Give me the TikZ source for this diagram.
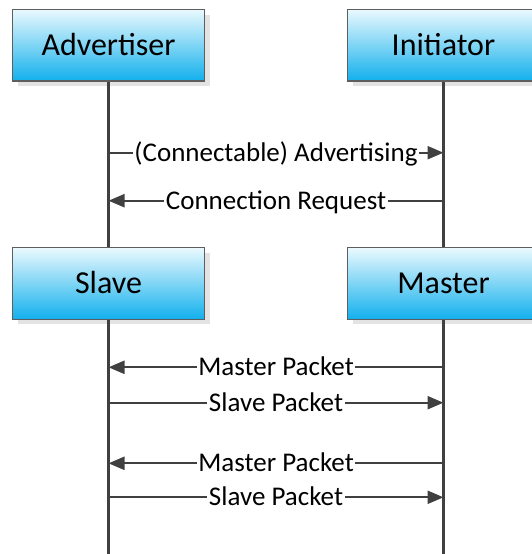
\documentclass[tikz,border=0pt]{standalone}
\usepackage{fontspec}
\setmainfont{Carlito}
\usetikzlibrary{arrows.meta,shadows}

\definecolor{ink}{HTML}{404040}
\definecolor{frame}{HTML}{5E5E5E}
\definecolor{boxtop}{HTML}{EAF9FE}
\definecolor{boxbot}{HTML}{12B0EC}
\definecolor{shade}{HTML}{E3E3E3}

\tikzset{
  x=1pt, y=1pt,
  party/.style={draw=frame, line width=1.3pt, top color=boxtop, bottom color=boxbot,
    minimum width=192pt, minimum height=71.5pt, inner sep=0pt,
    font=\fontsize{32}{38}\selectfont, text height=27pt, text depth=7pt,
    drop shadow={shadow xshift=5pt, shadow yshift=-5pt, fill=shade, opacity=1}},
  lifeline/.style={draw=ink, line width=2.6pt},
  msg/.style={draw=ink, line width=2.2pt, -{Triangle[length=16pt,width=13pt]}},
  msglabel/.style={fill=white, inner xsep=1.5pt, inner ysep=0pt,
    font=\fontsize{27}{32}\selectfont, text height=23pt, text depth=6pt}
}

\begin{document}
\begin{tikzpicture}
\useasboundingbox (0,0) rectangle (532,-554);

% participants
\node[party] (adv) at (108.5,-45.25) {Advertiser};
\node[party] (ini) at (443.5,-45.25) {Initiator};
\node[party] (sla) at (108.5,-283.5) {Slave};
\node[party] (mas) at (443.5,-283.5) {Master};

% lifelines
\coordinate (slaend) at (108.5,-560);
\coordinate (masend) at (443.5,-560);
\draw[lifeline] (adv.south) -- (sla.north);
\draw[lifeline] (ini.south) -- (mas.north);
\draw[lifeline] (sla.south) -- (slaend);
\draw[lifeline] (mas.south) -- (masend);

% message anchors on the lifelines
\coordinate (a1) at (108.5,-152.7);  \coordinate (i1) at (443.5,-152.7);
\coordinate (a2) at (108.5,-200.7);  \coordinate (i2) at (443.5,-200.7);
\coordinate (s1) at (108.5,-367.3);  \coordinate (m1) at (443.5,-367.3);
\coordinate (s2) at (108.5,-402.7);  \coordinate (m2) at (443.5,-402.7);
\coordinate (s3) at (108.5,-463.3);  \coordinate (m3) at (443.5,-463.3);
\coordinate (s4) at (108.5,-497.3);  \coordinate (m4) at (443.5,-497.3);

% messages
\draw[msg] (a1) -- node[msglabel] {(Connectable) Advertising} (i1);
\draw[msg] (i2) -- node[msglabel] {Connection Request} (a2);
\draw[msg] (m1) -- node[msglabel] {Master Packet} (s1);
\draw[msg] (s2) -- node[msglabel] {Slave Packet} (m2);
\draw[msg] (m3) -- node[msglabel] {Master Packet} (s3);
\draw[msg] (s4) -- node[msglabel] {Slave Packet} (m4);
\end{tikzpicture}
\end{document}
